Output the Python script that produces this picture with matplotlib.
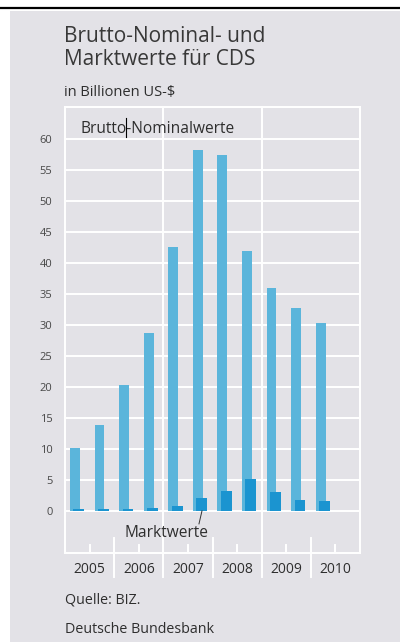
import matplotlib
matplotlib.use('Agg')
import matplotlib.pyplot as plt
from matplotlib.patches import Rectangle
from matplotlib.lines import Line2D
import numpy as np

# CDS-Werte je Halbjahr (Juni / Dezember), in Billionen US-$
periods = [2005.25, 2005.75, 2006.25, 2006.75, 2007.25, 2007.75,
           2008.25, 2008.75, 2009.25, 2009.75, 2010.25]
nominal = [10.2, 13.9, 20.4, 28.7, 42.6, 58.2, 57.4, 41.9, 36.0, 32.7, 30.3]
market = [0.27, 0.24, 0.29, 0.47, 0.72, 2.02, 3.19, 5.12, 2.99, 1.80, 1.67]
years = [2005, 2006, 2007, 2008, 2009, 2010]
yticks = [0, 5, 10, 15, 20, 25, 30, 35, 40, 45, 50, 55, 60]

W, H = 400, 642
bg = '#e3e2e7'
light = '#5bb5db'
dark = '#1b94d0'
txt = '#2e2e2e'
plt.rcParams['font.family'] = ['Open Sans', 'DejaVu Sans']


def fx(px):
    return px / W


def fy(px):
    return 1 - px / H


fig = plt.figure(figsize=(W / 100, H / 100), dpi=100)
fig.patch.set_facecolor('white')
fig.add_artist(Rectangle((fx(10), 0), 1, fy(10.5), transform=fig.transFigure,
                         facecolor=bg, edgecolor='none', zorder=0))
fig.add_artist(Line2D([0, 1], [fy(8), fy(8)], color='black', lw=1.6))

# Titel und Einheit
fig.text(fx(64), fy(42), 'Brutto-Nominal- und', fontsize=15, color='#383838', va='baseline')
fig.text(fx(64), fy(65), 'Marktwerte für CDS', fontsize=15, color='#383838', va='baseline')
fig.text(fx(64), fy(96), 'in Billionen US-$', fontsize=10.5, color=txt, va='baseline')

ax = fig.add_axes([fx(65), fy(553), fx(360) - fx(65), fy(107) - fy(553)])
ax.set_facecolor(bg)
ax.set_xlim(2005, 2011)
ax.set_ylim(-6.8, 65.2)
for s in ax.spines.values():
    s.set_color('white')
    s.set_linewidth(1.4)

ax.set_yticks(yticks)
ax.set_xticks([])
ax.yaxis.grid(True, color='white', lw=1.4)
ax.set_axisbelow(True)
ax.tick_params(axis='y', length=0, pad=9, labelsize=8, labelcolor='#484848')

# Jahresraster
tr = ax.get_xaxis_transform()
for y in years[1:]:
    top = 1.0 if y in (2007, 2009) else 0.034
    ax.plot([y, y], [top, -0.054], color='white', lw=1.4, transform=tr,
            clip_on=False, zorder=0.6)
for y in years:
    ax.plot([y + 0.5, y + 0.5], [0.018, 0], color='white', lw=1.4,
            transform=tr, clip_on=False, zorder=0.6)
    ax.text(y + 0.5, -0.038, str(y), transform=tr, ha='center', va='center',
            fontsize=10, color=txt)

x = np.array(periods)
ax.bar(x - 0.05, nominal, width=0.2, color=light, zorder=2)
ax.bar(x + 0.03, market, width=0.22, color=dark, zorder=3)

# Beschriftungen
ax.text(2005.32, 61.0, 'Brutto-Nominalwerte', fontsize=11.2, color=txt, va='baseline')
ax.plot([2006.24, 2006.24], [60.4, 63.45], color='black', lw=0.8, zorder=4)
ax.text(2006.22, -4.2, 'Marktwerte', fontsize=11.2, color=txt, va='baseline')
ax.plot([2007.725, 2007.786], [-2.1, 0], color='#333333', lw=0.7, zorder=4)

fig.text(fx(65), fy(604), 'Quelle: BIZ.', fontsize=10.3, color=txt, va='baseline')
fig.text(fx(65), fy(633), 'Deutsche Bundesbank', fontsize=10.3, color=txt, va='baseline')

fig.savefig('out.png', dpi=100, facecolor=fig.get_facecolor())
